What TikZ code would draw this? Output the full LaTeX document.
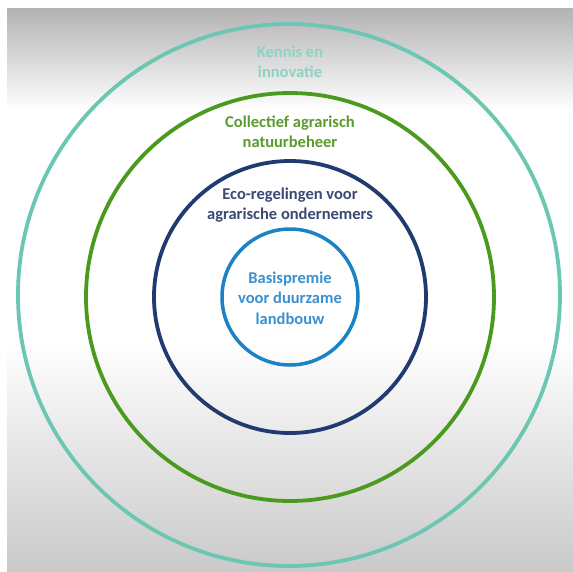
\documentclass[tikz,border=0pt]{standalone}
\usepackage{fontspec}
\setmainfont{Carlito}
\definecolor{kennis}{HTML}{6CC7B2}
\definecolor{kennistxt}{HTML}{8DD3C3}
\definecolor{collectief}{HTML}{4A9A1E}
\definecolor{collectieftxt}{HTML}{5B9B2E}
\definecolor{eco}{HTML}{1F3B6F}
\definecolor{ecotxt}{HTML}{3A4A72}
\definecolor{basis}{HTML}{1C82C6}
\definecolor{basistxt}{HTML}{3A90CE}
\begin{document}
\begin{tikzpicture}[x=1pt,y=-1pt,
        ring/.style={line width=#1},
        lbl/.style={align=center,inner sep=0pt,font=\bfseries\fontsize{16.5}{20.5}\selectfont}]
            \useasboundingbox (0,0) rectangle (573,571);
            \fill[white] (0,0) rectangle (573,571);
            \shade[top color=gray!60, bottom color=white] (7,8) rectangle (573,110);
            \shade[top color=white, bottom color=gray!42] (7,340) rectangle (573,571);
            \coordinate (c) at (290,297);
            \draw[ring=3.8pt, kennis] (289,295) circle[radius=271];
            \draw[ring=3.8pt, collectief] (c) circle[radius=204];
            \draw[ring=3.8pt, eco] (c) circle[radius=136];
            \draw[ring=3.5pt, basis] (c) circle[radius=68];
            \node[lbl, kennistxt] (kennis) at (290,62) {Kennis en\\innovatie};
            \node[lbl, collectieftxt] (collectief) at (290,132) {Collectief agrarisch\\natuurbeheer};
            \node[lbl, ecotxt] (eco) at (290,205) {Eco-regelingen voor\\agrarische ondernemers};
            \node[lbl, basistxt] (basis) at (290,298) {Basispremie\\voor duurzame\\landbouw};
        \end{tikzpicture}
\end{document}
